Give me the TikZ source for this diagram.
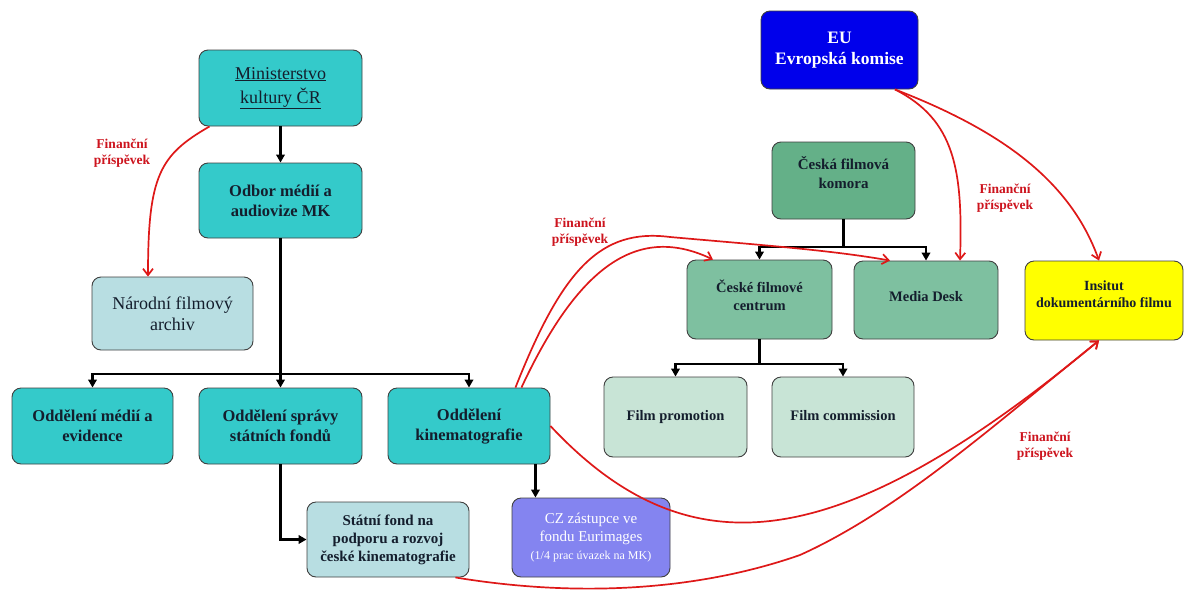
\documentclass[tikz,border=0pt]{standalone}
\usepackage{fontspec}
\setmainfont{Liberation Serif}
\usetikzlibrary{arrows.meta,calc}
\definecolor{tealbox}{RGB}{52,202,202}
\definecolor{paleblue}{RGB}{184,222,226}
\definecolor{lavender}{RGB}{132,132,240}
\definecolor{eublue}{RGB}{0,0,235}
\definecolor{darkgreen}{RGB}{100,176,136}
\definecolor{midgreen}{RGB}{126,192,160}
\definecolor{palegreen}{RGB}{200,228,214}
\definecolor{yellowbox}{RGB}{255,255,0}
\definecolor{finred}{RGB}{222,24,24}
\definecolor{lblred}{RGB}{205,20,30}
\definecolor{boxtext}{RGB}{20,30,45}
\tikzset{
  box/.style={draw=black!75, line width=0.9pt, rounded corners=9pt, align=center, inner sep=2pt, text=boxtext},
  tealnode/.style={box, fill=tealbox, font=\fontsize{16.5}{20}\selectfont\bfseries},
  palenode/.style={box, fill=paleblue},
  greennode/.style={box, font=\fontsize{14.5}{17.5}\selectfont\bfseries},
  blk/.style={line width=2.3pt, -{Triangle[length=8pt,width=8.5pt]}},
  busline/.style={line width=2.3pt},
  fin/.style={draw=finred, line width=1.7pt, -{Straight Barb[length=6.5pt,width=10pt]}},
  lbl/.style={text=lblred, align=center, font=\fontsize{13.5}{16}\selectfont\bfseries, inner sep=0pt}
}
\begin{document}
\begin{tikzpicture}[x=1pt,y=-1pt]
\useasboundingbox[fill=white] (0,0) rectangle (1187,590);

% left hierarchy
\node[box, fill=tealbox, minimum width=163pt, minimum height=76pt, font=\fontsize{18}{24}\selectfont] (min) at (280.5,88) {\underline{Ministerstvo}\\\underline{kultury ČR}};
\node[tealnode, minimum width=163pt, minimum height=75pt] (odbor) at (280.5,200.5) {Odbor médií a\\audiovize MK};
\node[palenode, minimum width=161pt, minimum height=73pt, font=\fontsize{18}{21}\selectfont] (narodni) at (172.5,313.5) {Národní filmový\\archiv};
\node[tealnode, minimum width=161pt, minimum height=76pt] (med) at (92.5,426) {Oddělení médií a\\evidence};
\node[tealnode, minimum width=163pt, minimum height=76pt] (spr) at (280.5,426) {Oddělení správy\\státních fondů};
\node[tealnode, minimum width=162pt, minimum height=76pt] (kin) at (469,426) {Oddělení\\kinematografie};
\node[palenode, minimum width=162pt, minimum height=75pt, font=\fontsize{15}{18}\selectfont\bfseries] (statni) at (388,539.5) {Státní fond na\\podporu a rozvoj\\české kinematografie};
\node[box, fill=lavender, text=white, minimum width=158pt, minimum height=79pt, font=\fontsize{15}{18}\selectfont] (cz) at (591,537.5) {CZ zástupce ve\\fondu Eurimages\\{\fontsize{12}{14}\selectfont (1/4 prac úvazek na MK)}};

% right hierarchy
\node[box, fill=eublue, text=white, minimum width=157pt, minimum height=78pt, font=\fontsize{17.5}{21}\selectfont\bfseries] (eu) at (839.5,50) {EU\\Evropská komise};
\node[greennode, fill=darkgreen, minimum width=143pt, minimum height=77pt, font=\fontsize{15}{19}\selectfont\bfseries] (komora) at (843.5,180.5) {Česká filmová\\komora\\[-3pt]};
\node[greennode, fill=midgreen, minimum width=145pt, minimum height=79pt] (centrum) at (759.5,299.5) {České filmové\\centrum\\[-9pt]};
\node[greennode, fill=midgreen, minimum width=144pt, minimum height=78pt] (media) at (926,300) {\raisebox{7pt}{Media Desk}};
\node[greennode, fill=palegreen, minimum width=143pt, minimum height=80pt] (prom) at (675.5,417) {\raisebox{4pt}{Film promotion}};
\node[greennode, fill=palegreen, minimum width=142pt, minimum height=80pt] (comm) at (843,417) {\raisebox{4pt}{Film commission}};
\node[greennode, fill=yellowbox, minimum width=158pt, minimum height=79pt, font=\fontsize{14}{17}\selectfont\bfseries] (inst) at (1104,300.5) {Insitut\\dokumentárního filmu\\[-4pt]};

% black connectors
\draw[blk] (min) -- (odbor);
\coordinate (bus1) at (280.5,374);
\draw[busline] (odbor.south) -- (bus1);
\draw[blk] (bus1) -| (med.north);
\draw[blk] (bus1) -- (spr.north);
\draw[blk] (bus1) -| (kin.north);
\draw[blk, line width=3pt] (spr.south) |- (statni.west);
\coordinate (k1) at ($(kin.south east)+(-15,0)$);
\draw[blk] (k1) -- (k1 |- cz.north);

\coordinate (bus2) at (843.5,247);
\draw[busline] (komora.south) -- (bus2);
\draw[blk] (bus2) -| (centrum.north);
\draw[blk] (bus2) -| (media.north);

\coordinate (bus3) at (759.5,364);
\draw[busline] (centrum.south) -- (bus3);
\draw[blk] (bus3) -| (prom.north);
\draw[blk] (bus3) -| (comm.north);

% red financial flows
\coordinate (m1) at ($(min.south west)+(11,0)$);
\coordinate (n1) at ($(narodni.north)+(-24.5,0)$);
\draw[fin] (m1) .. controls (160,155) and (148,175) .. (n1);

\coordinate (kA) at ($(kin.north east)+(-35,0)$);
\coordinate (kB) at ($(kin.north east)+(-29,0)$);
\coordinate (c1) at ($(centrum.north)+(-46.5,0)$);
\coordinate (d1) at ($(media.north)+(-36,0)$);
\draw[fin] (kB) .. controls (580,262) and (640,225) .. (c1);
\draw[fin] (kA) .. controls (562,270) and (600,228) .. (670,237) .. controls (760,245) and (830,250) .. (d1);

\coordinate (e1) at ($(eu.south)+(55.5,0)$);
\coordinate (d2) at ($(media.north)+(34,0)$);
\coordinate (i1) at ($(inst.north)+(-5,0)$);
\draw[fin] (e1) .. controls (955,120) and (963,170) .. (d2);
\draw[fin] (e1) .. controls (1000,130) and (1070,180) .. (i1);

\coordinate (i2) at ($(inst.south)+(-5,0)$);
\coordinate (s1) at ($(statni.south east)+(-14,0)$);
\draw[fin] (kin.east) .. controls (690,575) and (840,555) .. (i2);
\draw[fin] (s1) .. controls (580,598) and (700,590) .. (800,555) .. controls (900,510) and (1000,420) .. (i2);

% labels
\node[lbl] (l1) at (122,153) {Finanční\\příspěvek};
\node[lbl] (l2) at (580,232) {Finanční\\příspěvek};
\node[lbl] (l3) at (1005,198) {Finanční\\příspěvek};
\node[lbl] (l4) at (1045,446) {Finanční\\příspěvek};
\end{tikzpicture}
\end{document}
